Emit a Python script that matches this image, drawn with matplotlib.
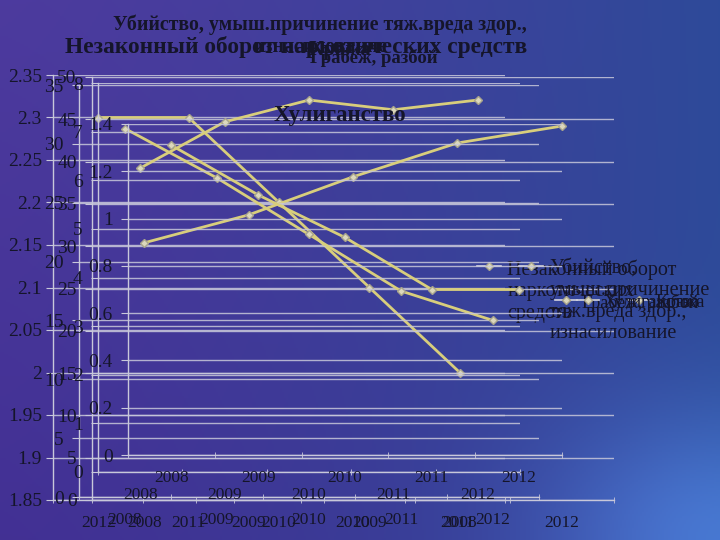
import matplotlib.pyplot as plt
import numpy as np
from matplotlib.ticker import FuncFormatter

plt.rcParams['font.family'] = ['Liberation Serif', 'DejaVu Serif']

# данные по пяти диаграммам
years = ['2008', '2009', '2010', '2011', '2012']
years_rev = ['2012', '2011', '2010', '2009', '2008']

narko = [2.3, 2.3, 2.2, 2.1, 2.0]            # ось 1.85..2.35, годы в обратном порядке
kraja = [30.4, 33.7, 38.2, 42.2, 44.2]       # ось 0..50
grabej = [31.3, 27.1, 22.3, 17.5, 15.0]      # ось 0..35
ubiystvo = [6.25, 7.2, 7.65, 7.45, 7.65]     # ось 0..8
huligan = [1.31, 1.1, 0.92, 0.70, 0.70]      # ось 0..1.4

t_narko = 'Незаконный оборот наркотических средств'
t_ubiystvo = 'Убийство, умыш.причинение тяж.вреда здор.,\nизнасилование'
t_grabej = 'Грабеж, разбой'
t_kraja = 'Кража'
t_huligan = 'Хулиганство'

W, H = 720, 540
txt = '#15152a'
grid_c = '#c8c8da'
line_c = '#d8ce7c'

fig = plt.figure(figsize=(7.2, 5.4), dpi=100)

# фон - градиент как на слайде
bg = fig.add_axes([0, 0, 1, 1])
gx = np.linspace(0, 1, 360)[None, :]
gy = np.linspace(0, 1, 270)[:, None]
c0 = np.array([0.30, 0.23, 0.62])
c1 = np.array([0.18, 0.29, 0.60])
tt = (gx ** 1.3)[..., None] * np.ones((270, 1, 1))
img = c0 * (1 - tt) + c1 * tt
glow = np.exp(-((gx - 1.0) ** 2 + (gy - 1.0) ** 2) / 0.06)[..., None]
img = img + glow * np.array([0.10, 0.18, 0.22])
img = img - (gy * 0.04)[..., None] * (1 - tt)
bg.imshow(np.clip(img, 0, 1), aspect='auto', extent=[0, 1, 0, 1])
bg.axis('off')


def make_ax(box, lo, hi, step, cats, vals, label, ypad=6):
    l, r, t, b = box
    ax = fig.add_axes([l / W, 1 - b / H, (r - l) / W, (b - t) / H])
    ax.patch.set_visible(False)
    ax.set_xlim(-0.5, 4.5)
    ax.set_ylim(lo, hi)
    n = int(round((hi - lo) / step))
    ax.set_yticks(np.linspace(lo, hi, n + 1))
    ax.yaxis.set_major_formatter(FuncFormatter(lambda v, p: '%g' % round(v, 3)))
    ax.set_xticks(range(5))
    ax.set_xticklabels(cats)
    ax.set_xticks(np.arange(-0.5, 5), minor=True)
    ax.tick_params(axis='x', which='major', length=0, pad=11, labelsize=12.5, labelcolor=txt)
    ax.tick_params(axis='x', which='minor', length=5, direction='inout', color=grid_c)
    ax.tick_params(axis='y', length=5, color=grid_c, pad=ypad, labelsize=14, labelcolor=txt)
    ax.grid(axis='y', color=grid_c, lw=1.0, alpha=0.85)
    for s in ['top', 'right']:
        ax.spines[s].set_visible(False)
    for s in ['left', 'bottom']:
        ax.spines[s].set_color(grid_c)
        ax.spines[s].set_linewidth(1.0)
    ax.plot(range(5), vals, color=line_c, lw=2.0, marker='D', ms=4.5,
            mfc='#dcd8bc', mec='#a8a48c', label=label)
    return ax


axA = make_ax((53, 505, 75, 500), 1.85, 2.35, 0.05, years_rev, narko,
              'Незаконный оборот\nнаркотических\nсредств', ypad=3)
axB = make_ax((92, 614, 77, 500), 0, 50, 5, years, kraja, t_kraja)
axC = make_ax((79, 539, 85, 497), 0, 35, 5, years, grabej, t_grabej)
axD = make_ax((98, 520, 83, 472), 0, 8, 1, years, ubiystvo,
              'Убийство,\nумыш.причинение\nтяж.вреда здор.,\nизнасилование')
axE = make_ax((128, 562, 124, 455), 0, 1.4, 0.2, years, huligan, t_huligan)

# легенды, наложенные друг на друга как в оригинале
for ax, (lx, ly), fs in [(axA, (477, 259), 14.5), (axD, (519, 259), 14.5),
                         (axC, (555, 294), 13), (axE, (577, 294), 13),
                         (axB, (628, 294), 13)]:
    leg = ax.legend(loc='upper left', bbox_to_anchor=(lx / W, 1 - ly / H),
                    bbox_transform=fig.transFigure, frameon=False, fontsize=fs,
                    handlelength=1.2, handletextpad=0.3, borderpad=0, borderaxespad=0,
                    labelcolor=txt)
    for t in leg.get_texts():
        t.set_linespacing(1.2)
    for h in leg.legend_handles:
        h.set_color('#d4d4e0')
        h.set_linewidth(1.2)
    # маркер на уровне первой строки подписи
    for col in leg._legend_handle_box.get_children():
        for item in col.get_children():
            item.align = 'top'

# заголовки
fig.text(320 / W, 1 - 36 / H, t_ubiystvo, ha='center', va='center', fontsize=14.3,
         fontweight='bold', color=txt, linespacing=1.15)
fig.text(296 / W, 1 - 47 / H, t_narko, ha='center', va='center', fontsize=16.8,
         fontweight='bold', color=txt)
fig.text(340 / W, 1 - 50 / H, t_kraja, ha='center', va='center', fontsize=15,
         fontweight='bold', color=txt)
fig.text(374 / W, 1 - 58 / H, t_grabej, ha='center', va='center', fontsize=13.5,
         fontweight='bold', color=txt)
fig.text(340 / W, 1 - 115 / H, t_huligan, ha='center', va='center', fontsize=16.5,
         fontweight='bold', color=txt)

plt.savefig('out.png', dpi=100)
